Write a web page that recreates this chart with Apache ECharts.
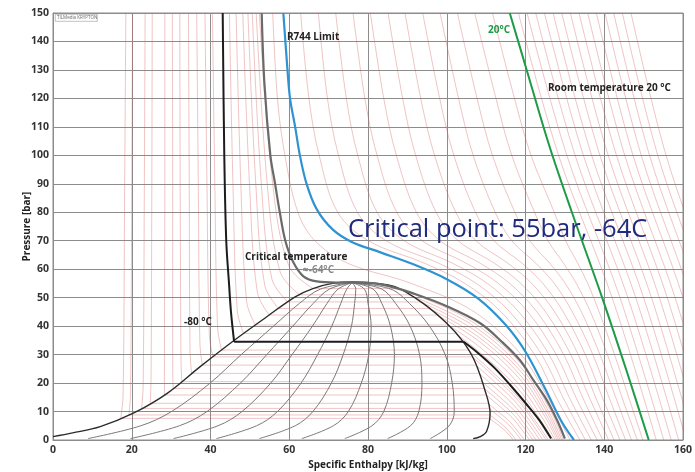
<!DOCTYPE html>
<html>
<head>
<meta charset="utf-8">
<script src="https://cdn.jsdelivr.net/npm/echarts@6/dist/echarts.min.js"></script>
<style>
  html, body { margin: 0; padding: 0; background: #fff; }
  #chart { width: 695px; height: 472px; }
</style>
</head>
<body>
<div id="chart"></div>
<script>
// saturation dome, [h, p]
const domeLine = [[0,1.2],[5,2.5],[12,4.7],[20.4,9.4],[29,16.4],[37.3,25.7],[45.8,34.8],[54.3,43.3],[61.5,50.3],[66,53.2],[71,55],[76,55.5],[81,55.2],[87,53.8],[94,48],[100,41],[104,34.8],[107,28],[109.7,17.5],[111,9.4],[110.1,3],[108.5,1.2],[106.7,0.5]];

// highlighted isotherms
const blackLiquid = [[43.1,150],[43.5,100],[44,70],[44.7,55],[45.2,45],[46,34.5]];
const blackFlat = [[46,34.5],[104.3,34.5]];
const blackVapor = [[104.3,34.5],[108,30.5],[112,25.5],[116,19.5],[120,13],[123.5,7],[126.5,0.5]];
const grayLine = [[53,150],[53.7,125],[55.2,100],[56.4,90],[57.6,80],[59,70],[61,62.5],[63.6,57.5],[67,55.7],[72,55.3],[76,55.3],[81,55.1],[86,53.8],[91.5,51.5],[100,47],[108.5,41],[114,34.5],[118.6,28],[122,21],[125.4,14],[128,7],[130,0.5]];
const blueLine = [[58.5,150],[59.5,131],[60.2,120],[61.5,110],[62.7,100],[64.4,90],[67,81],[71,74],[76,69.5],[83,66],[91,62],[100,56.5],[108,49.7],[115,40.4],[120,31],[125,18],[129.2,6.4],[132.3,0]];
const greenLine = [[116,150],[120.3,130],[125.9,104],[131.6,80.7],[139.4,50.3],[145.6,24.6],[151.3,0]];

// subcritical isotherms (red): saturation pressure and enthalpies
const satP     = [7.6, 8.8, 11.1, 12.9, 15.8, 18.1, 20.5, 23.4, 26.3, 29.2, 31.6, 37.4, 40.4, 43.9, 46.2, 48.5, 51, 53.2];
const liqTopH  = [18.5, 20.2, 23.4, 25.2, 28.4, 30.3, 32.2, 34.4, 36.5, 38.6, 40.5, 44.8, 46.5, 48.2, 49.5, 50.6, 51.6, 52.4];
const liqMidH  = [18.2, 20.0, 23.2, 25.1, 28.4, 30.4, 32.3, 34.6, 36.9, 39.1, 41.1, 45.7, 47.7, 49.9, 51.5, 52.9, 54.4, 55.8];
const liqNearH = [17.8, 19.7, 22.9, 24.9, 28.3, 30.4, 32.5, 34.8, 37.3, 39.7, 41.8, 46.8, 49.2, 51.9, 53.8, 55.6, 57.7, 59.9];
const liqSatH  = [17.2, 19.3, 22.5, 24.7, 28.3, 30.5, 32.7, 35.2, 37.9, 40.6, 42.8, 48.4, 51.4, 54.9, 57.3, 59.6, 62.6, 66];
const vapSatH  = [110.75, 110.9, 110.7, 110.4, 110.0, 109.5, 108.9, 108.2, 107.4, 106.5, 105.4, 102.3, 100.4, 97.5, 95.5, 93.4, 90.4, 87.7];
const vap80H   = [112.3, 112.6, 112.75, 112.7, 112.75, 112.6, 112.35, 112.05, 111.65, 111.2, 110.5, 109.1, 108.7, 107.8, 107.3, 106.8, 106.0, 105.3];
const vap50H   = [114.4, 114.9, 115.6, 116.0, 116.6, 116.9, 117.2, 117.4, 117.6, 117.7, 117.6, 117.7, 118.0, 118.2, 118.45, 118.7, 118.8, 119.0];
const vap20H   = [116.0, 116.6, 117.7, 118.3, 119.35, 120.0, 120.6, 121.3, 121.85, 122.4, 122.7, 123.6, 124.15, 124.7, 125.1, 125.5, 125.8, 126.2];
const vapEndH  = [116.9, 117.6, 118.9, 119.75, 121.0, 121.9, 122.7, 123.6, 124.4, 125.2, 125.8, 127.0, 127.5, 128.0, 128.4, 128.8, 129.2, 129.6];
const vapFrac  = [1, 0.8, 0.5, 0.2, 0];

// supercritical isotherms (red), enthalpy at each pressure level
const superP = [150, 120, 100, 80, 70, 62, 55, 45, 30, 15, 0];
const superH = [
  [55.8, 57.0, 58.9, 62.2, 66.5, 75.0, 91.0, 107.0, 118.9, 125.6, 131.3],
  [62.9, 65.0, 67.6, 72.3, 80.1, 94.5, 104.6, 113.8, 122.3, 127.8, 133.8],
  [67.4, 69.7, 72.5, 77.3, 84.6, 98.1, 107.5, 116.0, 124.1, 129.5, 135.2],
  [71.8, 74.5, 77.4, 82.3, 89.2, 101.6, 110.3, 118.3, 126.0, 131.1, 136.7],
  [76.2, 79.2, 82.3, 87.3, 93.8, 105.1, 113.1, 120.6, 127.8, 132.8, 138.2],
  [80.6, 84.0, 87.2, 92.3, 98.3, 108.6, 116.0, 122.9, 129.7, 134.5, 139.6],
  [85.1, 88.8, 92.1, 97.3, 102.9, 112.2, 118.8, 125.1, 131.5, 136.2, 141.1],
  [89.4, 93.4, 96.9, 102.3, 107.4, 115.6, 121.6, 127.4, 133.4, 137.8, 142.5],
  [93.9, 98.2, 101.8, 107.3, 112.0, 119.2, 124.4, 129.6, 135.2, 139.5, 144.0],
  [98.3, 103.0, 106.7, 112.3, 116.5, 122.7, 127.3, 131.9, 137.1, 141.2, 145.4],
  [102.7, 107.7, 111.6, 117.3, 121.1, 126.2, 130.1, 134.2, 138.9, 142.9, 146.9],
  [107.1, 112.5, 116.5, 122.3, 125.7, 129.7, 132.9, 136.5, 140.8, 144.5, 148.4],
  [111.6, 117.2, 121.4, 127.3, 130.2, 133.3, 135.8, 138.7, 142.6, 146.2, 149.8]
];
// hot isotherms right of the 20 °C line
const hotP = [150, 100, 50, 0];
const hotH = [
  [118.2, 128.4, 142.0, 153.2], [120.4, 130.5, 144.0, 155.1], [122.6, 132.6, 146.0, 157.0],
  [124.8, 134.7, 148.0, 158.9], [127.0, 136.8, 150.0, 160.8], [129.2, 138.9, 152.0, 162.7],
  [131.4, 141.0, 154.0, 164.6], [133.6, 143.1, 156.0, 166.5], [135.8, 145.2, 158.0, 168.4],
  [138.0, 147.3, 160.0, 170.3], [140.2, 149.4, 162.0, 172.2], [142.4, 151.5, 164.0, 174.1],
  [144.6, 153.6, 166.0, 176.0], [146.8, 155.7, 168.0, 177.9]
];

// vapour quality lines inside the dome
const qualityP = [0.5, 5, 10, 20, 30, 40, 48, 53, 55.3];
const qualityH = [
  [8.9, 22.3, 30.1, 39.9, 47.8, 56.0, 62.6, 67.9, 76],
  [19.7, 32.1, 39.1, 47.6, 54.3, 60.9, 66.1, 70.2, 76],
  [30.6, 41.9, 48.0, 55.3, 60.7, 65.9, 69.6, 72.4, 76],
  [41.5, 51.7, 57.0, 63.0, 67.2, 70.8, 73.1, 74.6, 76],
  [52.4, 61.5, 66.0, 70.7, 73.7, 75.8, 76.6, 76.9, 76],
  [63.2, 71.2, 75.0, 78.3, 80.2, 80.8, 80.0, 79.1, 76],
  [74.1, 81.0, 84.0, 86.0, 86.7, 85.7, 83.5, 81.3, 76],
  [85.0, 90.8, 92.9, 93.7, 93.1, 90.7, 87.0, 83.5, 76],
  [95.8, 100.6, 101.9, 101.4, 99.6, 95.6, 90.5, 85.8, 76]
];

const RED = "rgba(210, 90, 90, 0.45)";

function line(data, color, width, z, smooth) {
  return {
    type: "line",
    data: data,
    symbol: "none",
    smooth: smooth === undefined ? 0.35 : smooth,
    lineStyle: { color: color, width: width },
    z: z,
    silent: true,
    animation: false,
  };
}

const series = [];

satP.forEach((p, i) => {
  series.push(line([[liqTopH[i], 150], [liqMidH[i], 90], [liqNearH[i], p + 8], [liqSatH[i], p]], RED, 0.8, 1));
  series.push(line([[liqSatH[i], p], [vapSatH[i], p]], RED, 0.8, 1, false));
  const vap = [vapSatH[i], vap80H[i], vap50H[i], vap20H[i], vapEndH[i]].map((h, j) => [h, p * vapFrac[j]]);
  series.push(line(vap, RED, 0.8, 1));
});

superH.forEach((row) => {
  series.push(line(row.map((h, j) => [h, superP[j]]), RED, 0.8, 1));
});

hotH.forEach((row) => {
  series.push(line(row.map((h, j) => [h, hotP[j]]), RED, 0.8, 1));
});

qualityH.forEach((row) => {
  series.push(line(row.map((h, j) => [h, qualityP[j]]), "#7a7a7a", 1, 2));
});

series.push(line(domeLine, "#2b2b2b", 1.4, 3));
series.push(line(blackLiquid, "#1c1c1c", 2, 4));
series.push(line(blackFlat, "#1c1c1c", 2, 4, false));
series.push(line(blackVapor, "#1c1c1c", 2, 4));
series.push(line(grayLine, "#6a6a6a", 2.2, 4));
series.push(line(blueLine, "#2f93d1", 2.2, 5));
series.push(line(greenLine, "#1f9a45", 2, 5));

const txt = (left, top, text, opts) => ({
  type: "text",
  left: left,
  top: top,
  z: 100,
  style: Object.assign(
    { text: text, fill: "#222", font: "bold 10px 'Open Sans'" },
    opts || {}
  ),
});

const chart = echarts.init(document.getElementById("chart"), null, { renderer: "canvas" });

chart.setOption({
  animation: false,
  backgroundColor: "#fff",
  grid: {
    left: 53, right: 12, top: 13, bottom: 32,
    outerBoundsMode: "none",
    show: true, borderColor: "#8c8c8c", borderWidth: 1,
  },
  xAxis: {
    type: "value",
    min: 0,
    max: 160,
    interval: 20,
    name: "Specific Enthalpy [kJ/kg]",
    nameLocation: "middle",
    nameGap: 20,
    nameMoveOverlap: false,
    nameTextStyle: { fontWeight: "bold", fontSize: 10, color: "#222", fontFamily: "Open Sans" },
    axisLabel: { fontWeight: "bold", fontSize: 10.5, color: "#333", margin: 5, fontFamily: "Open Sans" },
    axisTick: { show: false },
    axisLine: { lineStyle: { color: "#8c8c8c" } },
    splitLine: { lineStyle: { color: "#8c8c8c", width: 1 } },
  },
  yAxis: {
    type: "value",
    min: 0,
    max: 150,
    interval: 10,
    name: "Pressure [bar]",
    nameLocation: "middle",
    nameGap: 21,
    nameMoveOverlap: false,
    nameTextStyle: { fontWeight: "bold", fontSize: 10, color: "#222", fontFamily: "Open Sans" },
    axisLabel: { fontWeight: "bold", fontSize: 10.5, color: "#333", margin: 4, fontFamily: "Open Sans" },
    axisTick: { show: false },
    axisLine: { lineStyle: { color: "#8c8c8c" } },
    splitLine: { lineStyle: { color: "#8c8c8c", width: 1 } },
  },
  series: series,
  graphic: [
    { type: "rect", left: 55, top: 14, z: 100, shape: { width: 42, height: 7 }, style: { fill: "#fff", stroke: "#999", lineWidth: 0.6 } },
    txt(57, 15, "TILMedia KRYPTON", { font: "4.5px 'Open Sans'", fill: "#666" }),
    txt(287, 32, "R744 Limit"),
    txt(488, 25, "20°C", { fill: "#1f9a45" }),
    txt(548, 83, "Room temperature 20 °C"),
    txt(348, 217, "Critical point: 55bar, -64C", { font: "25.5px 'Open Sans'", fill: "#1f2b7d" }),
    txt(245, 252, "Critical temperature"),
    txt(303, 265, "≈-64°C", { fill: "#8a8a8a" }),
    txt(184, 317, "-80 °C"),
  ],
});
</script>
</body>
</html>
